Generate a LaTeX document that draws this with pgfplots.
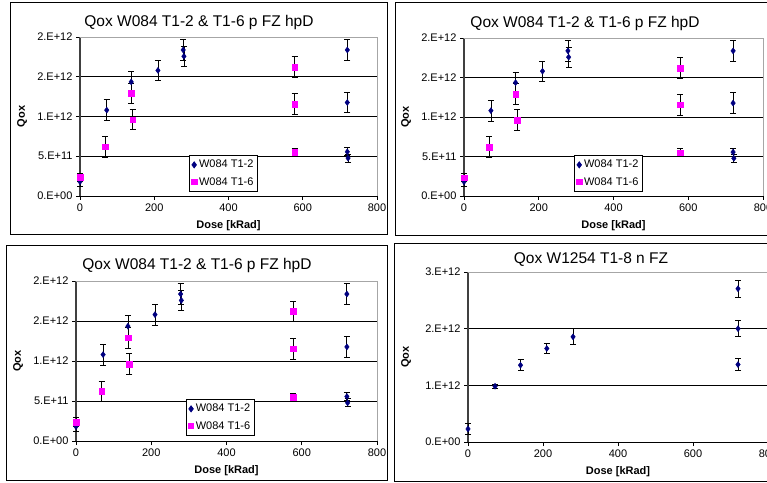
\documentclass[border=0pt]{standalone}
\usepackage{pgfplots}
\pgfplotsset{compat=1.18}
\usepackage{pgfplotstable}
\usepackage{fontspec}
\setmainfont{Liberation Sans}
\definecolor{navyblue}{RGB}{0,0,128}
\definecolor{pinkmag}{RGB}{255,0,255}

% W084 T1-2
\pgfplotstableread{
x y ey
0 1.80e11 0.55e11
72 1.08e12 0.13e12
138 1.435e12 0.13e12
210 1.58e12 0.13e12
278 1.837e12 0.13e12
280 1.757e12 0.13e12
720 1.837e12 0.13e12
720 1.176e12 0.13e12
720 0.556e12 0.05e12
722 0.477e12 0.05e12
}\tTwo

% W084 T1-6
\pgfplotstableread{
x y ey
0 2.34e11 0.55e11
68 0.619e12 0.13e12
138 1.29e12 0.13e12
142 0.962e12 0.13e12
578 1.62e12 0.13e12
578 1.155e12 0.13e12
578 0.548e12 0.05e12
}\tSix

% W1254 T1-8
\pgfplotstableread{
x y ey
0 0.23e12 0.09e12
72 0.984e12 0.04e12
140 1.355e12 0.1e12
210 1.65e12 0.09e12
280 1.856e12 0.14e12
720 2.705e12 0.15e12
720 2.0e12 0.14e12
720 1.367e12 0.1e12
}\tEight

\pgfplotsset{
  qox/.style={
    scale only axis,
    xmin=0, xmax=800, xtick={0,200,...,800},
    scaled y ticks=false,
    axis x line*=bottom, axis y line*=left,
    tick align=outside, major tick length=4pt,
    ymajorgrids, grid style={black, line width=0.8pt},
    x axis line style={black, line width=0.9pt},
    y axis line style={black!75, line width=1.4pt},
    tick style={black, line width=0.8pt},
    tick label style={font=\fontsize{11}{13}\selectfont},
    /pgf/number format/assume math mode=true,
    xlabel={Dose [kRad]}, ylabel={Qox},
    label style={font=\fontsize{11}{13}\selectfont\bfseries},
    xlabel style={at={([yshift=-30pt]axis description cs:0.5,0)}, anchor=center},
    ylabel style={at={([xshift=-58pt]axis description cs:0,0.5)}, anchor=center},
    legend style={draw=black, line width=0.8pt, fill=white,
      font=\fontsize{11}{13}\selectfont, anchor=south west,
      inner xsep=2pt, inner ysep=3pt, row sep=4pt},
    legend cell align=left,
    clip=false,
  },
  w84/.style={
    qox,
    ymin=0, ymax=2e12,
    ytick={0,5e11,1e12,1.5e12,2e12},
    yticklabels={0.E+00,5.E+11,1.E+12,2.E+12,2.E+12},
  },
  eb/.style={error bars/.cd, y dir=both, y explicit,
    error bar style={black, line width=0.8pt},
    error mark options={black, rotate=90, mark size=3pt, line width=0.8pt}},
  sTwo/.style={only marks, mark=diamond*, mark size=3pt, color=navyblue},
  sSix/.style={only marks, mark=square*, mark size=2.8pt, color=pinkmag},
}

\newcommand{\topframe}{\draw[gray!70, line width=0.8pt] (rel axis cs:0,1) -- (rel axis cs:1,1) -- (rel axis cs:1,0);}

\begin{document}
\begin{tikzpicture}
\useasboundingbox (0pt,0pt) rectangle (767pt,482pt);
\begin{scope}
\clip (0pt,0pt) rectangle (767pt,482pt);

% borders
\draw[black, line width=1pt] (10pt,247pt) rectangle (387pt,479pt);
\draw[black, line width=1pt] (395pt,246pt) rectangle (800pt,479pt);
\draw[black, line width=1pt] (6pt,2pt) rectangle (387pt,236pt);
\draw[black, line width=1pt] (394pt,1pt) rectangle (800pt,238pt);

% panel 1
\begin{axis}[w84, at={(80pt,286pt)}, anchor=south west, width=297pt, height=159pt,
  legend style={at={(0.367,0.025)}}]
\topframe
\addplot[sTwo, eb] table[x=x, y=y, y error=ey] {\tTwo};
\addlegendentry{W084 T1-2}
\addplot[sSix, eb] table[x=x, y=y, y error=ey] {\tSix};
\addlegendentry{W084 T1-6}
\end{axis}
\node[font=\fontsize{15.5}{18}\selectfont] at (199pt,460pt) {Qox W084 T1-2 \& T1-6 p FZ hpD};

% panel 2
\begin{axis}[w84, at={(464pt,286pt)}, anchor=south west, width=299pt, height=158pt,
  legend style={at={(0.368,0.025)}}]
\topframe
\addplot[sTwo, eb] table[x=x, y=y, y error=ey] {\tTwo};
\addlegendentry{W084 T1-2}
\addplot[sSix, eb] table[x=x, y=y, y error=ey] {\tSix};
\addlegendentry{W084 T1-6}
\end{axis}
\node[font=\fontsize{15.5}{18}\selectfont] at (585pt,459pt) {Qox W084 T1-2 \& T1-6 p FZ hpD};

% panel 3
\begin{axis}[w84, at={(76pt,41pt)}, anchor=south west, width=301pt, height=160pt,
  legend style={at={(0.365,0.031)}}]
\topframe
\addplot[sTwo, eb] table[x=x, y=y, y error=ey] {\tTwo};
\addlegendentry{W084 T1-2}
\addplot[sSix, eb] table[x=x, y=y, y error=ey] {\tSix};
\addlegendentry{W084 T1-6}
\end{axis}
\node[font=\fontsize{15.5}{18}\selectfont] at (197pt,217pt) {Qox W084 T1-2 \& T1-6 p FZ hpD};

% panel 4
\begin{axis}[qox, at={(468pt,40pt)}, anchor=south west, width=300pt, height=170pt,
  ymin=0, ymax=3e12, ytick={0,1e12,2e12,3e12},
  yticklabels={0.E+00,1.E+12,2.E+12,3.E+12},
  ylabel style={at={([xshift=-62pt]axis description cs:0,0.5)}}]
\topframe
\addplot[sTwo, eb] table[x=x, y=y, y error=ey] {\tEight};
\end{axis}
\node[font=\fontsize{15.5}{18}\selectfont] at (591pt,222pt) {Qox W1254 T1-8 n FZ};

\end{scope}
\end{tikzpicture}
\end{document}
